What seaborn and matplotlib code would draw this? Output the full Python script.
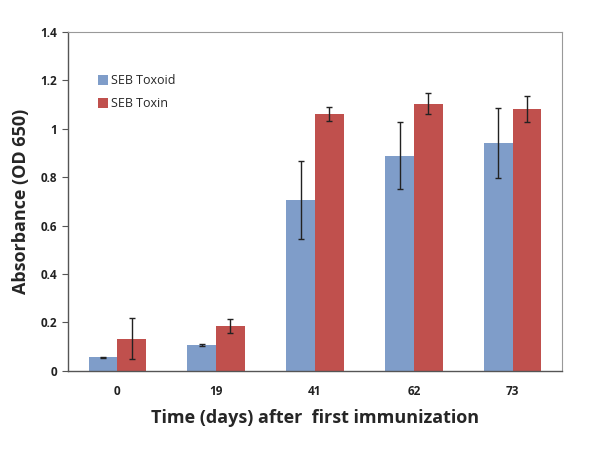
import matplotlib
matplotlib.use("Agg")
from matplotlib import pyplot
import seaborn
import pandas as pd

# values
days = ["0", "19", "41", "62", "73"]
toxoid = [0.055, 0.106, 0.705, 0.889, 0.942]
toxoid_err = [0.003, 0.004, 0.162, 0.138, 0.144]
toxin = [0.133, 0.184, 1.060, 1.104, 1.082]
toxin_err = [0.085, 0.028, 0.029, 0.042, 0.052]
series = ["SEB Toxoid", "SEB Toxin"]

df = pd.DataFrame(
    {
        "day": days * 2,
        "value": toxoid + toxin,
        "err": toxoid_err + toxin_err,
        "group": [series[0]] * len(days) + [series[1]] * len(days),
    }
)

seaborn.set_style("white")
pyplot.rcParams["font.family"] = ["Open Sans", "DejaVu Sans"]

fig, ax = pyplot.subplots(figsize=(6, 4.5), dpi=100)
fig.subplots_adjust(left=0.113, right=0.937, bottom=0.176, top=0.929)

seaborn.barplot(
    data=df,
    x="day",
    y="value",
    hue="group",
    order=days,
    hue_order=series,
    palette=["#7F9DC9", "#C0504D"],
    saturation=1,
    width=0.58,
    errorbar=None,
    linewidth=0,
    ax=ax,
)

# error bars on the bar centres
for container, name in zip(ax.containers, series):
    errs = df[df["group"] == name]["err"].tolist()
    xs = [p.get_x() + p.get_width() / 2 for p in container]
    ys = [p.get_height() for p in container]
    ax.errorbar(xs, ys, yerr=errs, fmt="none", ecolor="#222222",
                elinewidth=1, capsize=2.5, capthick=1)

ax.set_ylim(0, 1.4)
ax.set_yticks([0, 0.2, 0.4, 0.6, 0.8, 1.0, 1.2, 1.4])
ax.set_yticklabels(["0", "0.2", "0.4", "0.6", "0.8", "1", "1.2", "1.4"])
ax.set_xlim(-0.5, 4.5)

for lab in ax.get_xticklabels() + ax.get_yticklabels():
    lab.set_fontweight("bold")
    lab.set_fontsize(8.5)
    lab.set_color("#222222")

ax.tick_params(axis="y", length=4, width=0.8, color="#555555", direction="out", left=True)
ax.tick_params(axis="x", length=0, pad=10)

for s in ["top", "right"]:
    ax.spines[s].set_color("#999999")
    ax.spines[s].set_linewidth(0.8)
for s in ["left", "bottom"]:
    ax.spines[s].set_color("#555555")
    ax.spines[s].set_linewidth(1.0)

ax.set_xlabel("Time (days) after  first immunization", fontsize=13, fontweight="bold", labelpad=8)
ax.set_ylabel("Absorbance (OD 650)", fontsize=13, fontweight="bold", labelpad=8)

leg = ax.legend(
    loc="upper left",
    bbox_to_anchor=(0.05, 0.89),
    frameon=False,
    fontsize=9,
    handlelength=0.8,
    handleheight=0.8,
    handletextpad=0.3,
    labelspacing=0.8,
    borderaxespad=0,
)

fig.savefig("out.png", dpi=100)
